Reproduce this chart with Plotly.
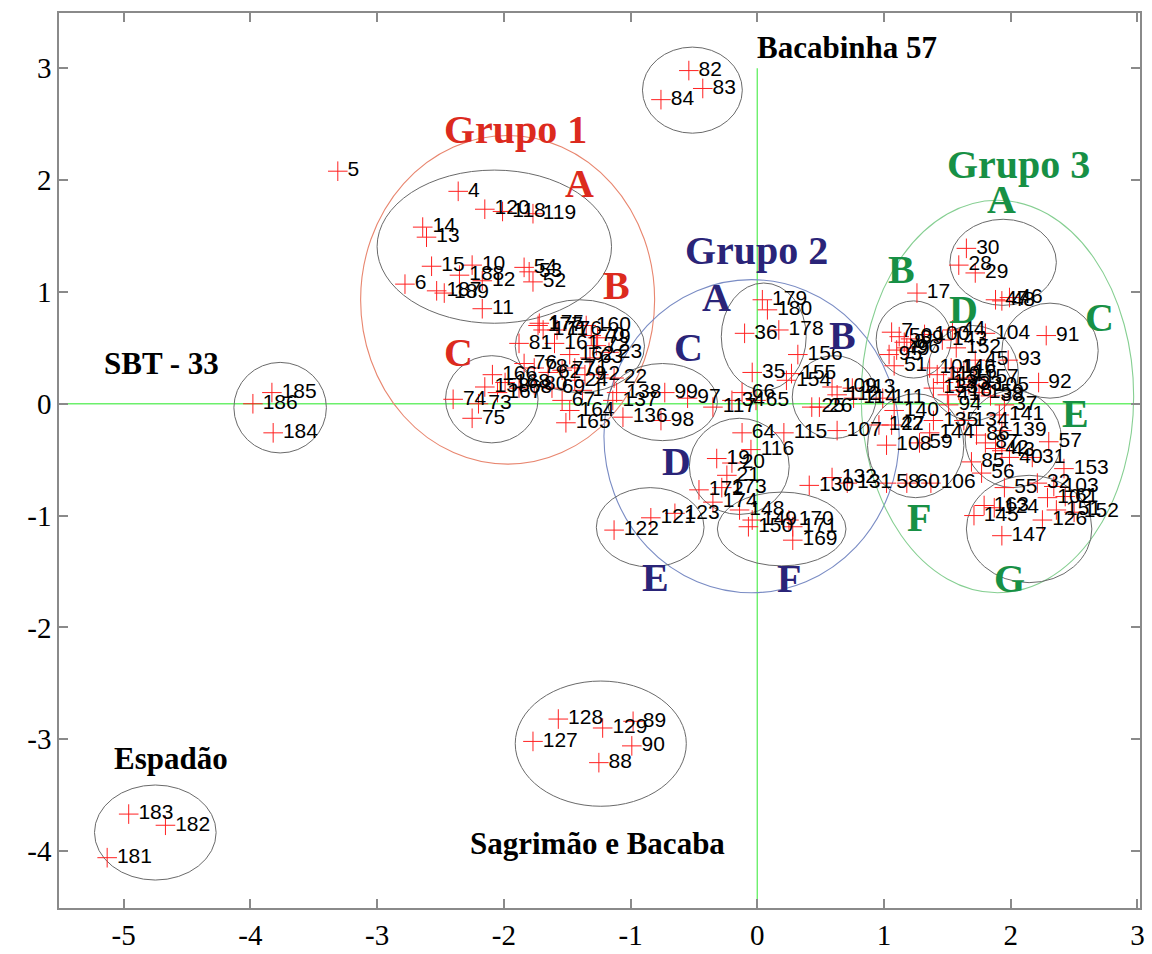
import plotly.graph_objects as go

# ---------------- data: labelled points ----------------
labels = [
    # isolated groups
    "5", "82", "83", "84", "185", "186", "184", "183", "182", "181",
    "128", "127", "129", "89", "90", "88",
    # Grupo 1 A
    "4", "120", "118", "119", "14", "13", "15", "10", "188", "12", "6", "187", "189", "11", "54", "53", "52",
    # Grupo 1 B
    "175", "177", "171", "176", "160", "81", "161", "70", "79", "72", "23", "162", "63", "76", "78",
    "62", "77", "71", "9", "24", "22", "2", "168", "80", "69", "67", "1", "68",
    # Grupo 1 C
    "166", "158", "167", "74", "73", "75", "164", "165",
    # Grupo 2
    "138", "137", "136", "99", "97", "98", "117", "34", "66", "65", "35", "36", "179", "180", "178",
    "156", "155", "154", "109", "113", "112", "114", "111", "25", "26", "64", "115", "107",
    "116", "19", "20", "21", "172", "173", "174", "148", "149", "150", "170", "171", "169",
    "122", "121", "123", "130", "132", "131",
    # Grupo 3
    "17", "30", "28", "29", "47", "46", "48", "91", "92", "104", "44", "143", "152", "45", "93",
    "7", "50", "8", "49", "95", "51", "96", "39", "100",
    "101", "110", "125", "133", "146", "3", "16", "18", "33", "41", "157", "159", "105", "38",
    "94", "37", "141", "139", "57", "153", "31", "40", "85", "87", "86", "43", "42", "134", "135",
    "142", "27", "140", "144", "108", "59", "58", "60", "106", "56", "55", "32", "103", "61",
    "145", "147", "126", "102", "124", "163", "151", "152",
]

x_vals = [
    -3.31, -0.54, -0.43, -0.76, -3.83, -3.98, -3.82, -4.96, -4.67, -5.13,
    -1.57, -1.77, -1.22, -0.98, -0.99, -1.25,
    -2.36, -2.15, -2.01, -1.77, -2.64, -2.61, -2.57, -2.25, -2.35, -2.17, -2.78, -2.53, -2.47, -2.17, -1.84, -1.80, -1.77,
    -1.72, -1.73, -1.69, -1.58, -1.35, -1.88, -1.60, -1.31, -1.26, -1.27, -1.17, -1.48, -1.32, -1.84, -1.76,
    -1.65, -1.54, -1.44, -1.36, -1.44, -1.13, -1.25, -1.99, -1.76, -1.62, -1.54, -1.38, -1.88,
    -2.09, -2.15, -2.05, -2.40, -2.20, -2.25, -1.48, -1.51,
    -1.11, -1.14, -1.06, -0.73, -0.55, -0.76, -0.35, -0.20, -0.12, -0.01, -0.04, -0.10, 0.04, 0.08, 0.17,
    0.32, 0.27, 0.23, 0.59, 0.75, 0.63, 0.76, 0.99, 0.43, 0.49, -0.12, 0.21, 0.63,
    -0.05, -0.32, -0.20, -0.24, -0.46, -0.28, -0.35, -0.14, -0.04, -0.07, 0.25, 0.28, 0.28,
    -1.13, -0.84, -0.65, 0.41, 0.59, 0.71,
    1.26, 1.65, 1.59, 1.72, 1.88, 1.99, 1.93, 2.28, 2.22, 1.80, 1.54, 1.46, 1.57, 1.72, 1.98,
    1.06, 1.12, 1.16, 1.10, 1.04, 1.08, 1.18, 1.21, 1.32,
    1.36, 1.42, 1.47, 1.39, 1.53, 1.58, 1.63, 1.59, 1.67, 1.50, 1.71, 1.75, 1.79, 1.84,
    1.51, 1.95, 1.91, 1.93, 2.30, 2.42, 2.17, 1.99, 1.69, 1.80, 1.73, 1.93, 1.88, 1.63, 1.39,
    0.96, 1.06, 1.08, 1.36, 1.02, 1.28, 1.02, 1.18, 1.37, 1.77, 1.95, 2.21, 2.34, 2.43,
    1.71, 1.93, 2.25, 2.29, 1.87, 1.79, 2.36, 2.50,
]

y_vals = [
    2.08, 2.98, 2.82, 2.72, 0.10, 0.00, -0.26, -3.67, -3.77, -4.06,
    -2.82, -3.02, -2.90, -2.84, -3.06, -3.21,
    1.90, 1.74, 1.72, 1.70, 1.58, 1.49, 1.23, 1.24, 1.15, 1.10, 1.07, 1.01, 0.99, 0.85, 1.22, 1.18, 1.09,
    0.72, 0.70, 0.66, 0.66, 0.70, 0.54, 0.54, 0.61, 0.59, 0.52, 0.46, 0.44, 0.41, 0.36, 0.32,
    0.28, 0.30, 0.32, 0.26, 0.21, 0.23, 0.26, 0.19, 0.17, 0.14, 0.03, 0.12, 0.14,
    0.26, 0.15, 0.10, 0.04, 0.00, -0.13, -0.06, -0.17,
    0.10, 0.03, -0.12, 0.10, 0.05, -0.15, -0.03, 0.03, 0.10, 0.03, 0.28, 0.63, 0.93, 0.84, 0.66,
    0.44, 0.27, 0.21, 0.15, 0.14, 0.08, 0.05, 0.05, -0.03, -0.03, -0.26, -0.26, -0.24,
    -0.41, -0.49, -0.53, -0.64, -0.77, -0.75, -0.88, -0.95, -1.04, -1.10, -1.04, -1.10, -1.22,
    -1.13, -1.02, -0.98, -0.73, -0.66, -0.71,
    0.99, 1.39, 1.24, 1.17, 0.93, 0.95, 0.92, 0.61, 0.19, 0.63, 0.66, 0.57, 0.50, 0.39, 0.39,
    0.64, 0.60, 0.55, 0.48, 0.44, 0.34, 0.50, 0.58, 0.62,
    0.32, 0.26, 0.19, 0.14, 0.32, 0.23, 0.28, 0.12, 0.17, 0.08, 0.23, 0.10, 0.16, 0.07,
    -0.01, -0.01, -0.10, -0.24, -0.34, -0.58, -0.48, -0.48, -0.52, -0.35, -0.28, -0.42, -0.40, -0.15, -0.15,
    -0.19, -0.19, -0.06, -0.26, -0.37, -0.35, -0.71, -0.71, -0.71, -0.62, -0.75, -0.71, -0.74, -0.83,
    -1.00, -1.18, -1.04, -0.84, -0.93, -0.91, -0.95, -0.97,
]

# ---------------- data: enclosing ellipses (x0, x1, y0, y1) ----------------
ellipse_x0 = [-0.906, -3.00, -1.91, -2.46, -4.13, -5.23, -1.91, -0.284, 0.276, -1.18, -0.536, -1.27, -0.315,
              1.52, 0.938, 1.93, 1.34, 1.64, 0.87, 1.65]
ellipse_x1 = [-0.118, -1.15, -0.89, -1.73, -3.40, -4.27, -0.56, 0.386, 0.938, -0.315, 0.252, -0.42, 0.70,
              2.36, 1.53, 2.69, 2.06, 2.40, 1.63, 2.64]
ellipse_y0 = [2.42, 0.72, 0.10, -0.35, -0.44, -4.26, -3.60, 0.12, -0.31, -0.33, -0.99, -1.46, -1.45,
              0.88, 0.23, 0.05, -0.15, -0.75, -0.84, -1.60]
ellipse_y1 = [3.19, 2.09, 0.93, 0.43, 0.37, -3.41, -2.48, 1.08, 0.43, 0.36, -0.13, -0.75, -0.79,
              1.65, 0.92, 0.90, 0.70, 0.12, 0.09, -0.64]

group_x0 = [-3.13, -1.21, 0.82]
group_x1 = [-0.81, 1.12, 2.97]
group_y0 = [-0.54, -1.69, -1.69]
group_y1 = [2.40, 1.11, 1.82]
group_colors = ["#e8866f", "#7a8cc4", "#86cf92"]

# ---------------- data: text annotations ----------------
group_text = ["Grupo 1", "A", "B", "C",
              "Grupo 2", "A", "B", "C", "D", "E", "F",
              "Grupo 3", "A", "B", "C", "D", "E", "F", "G"]
group_text_x = [-1.91, -1.40, -1.11, -2.36,
                -0.01, -0.32, 0.67, -0.54, -0.64, -0.80, 0.25,
                2.06, 1.93, 1.14, 2.70, 1.63, 2.51, 1.28, 1.99]
group_text_y = [2.45, 1.97, 1.06, 0.46,
                1.37, 0.95, 0.61, 0.50, -0.52, -1.55, -1.56,
                2.14, 1.83, 1.20, 0.77, 0.84, -0.09, -1.02, -1.56]
group_text_color = ["#dc2a1e"] * 4 + ["#2a2478"] * 7 + ["#179045"] * 8

name_text = ["Bacabinha 57", "SBT - 33", "Espadão", "Sagrimão e Bacaba"]
name_x = [0.71, -4.70, -4.63, -1.26]
name_y = [3.19, 0.36, -3.17, -3.93]

x_ticks = [-5, -4, -3, -2, -1, 0, 1, 2, 3]
y_ticks = [-4, -3, -2, -1, 0, 1, 2, 3]
x_range = [-5.51, 3.02]
y_range = [-4.51, 3.495]

# ---------------- figure ----------------
fig = go.Figure()

shapes = []
# green axis cross
shapes.append(dict(type="line", xref="x", yref="y", x0=0, x1=0, y0=y_range[0], y1=3.0,
                   line=dict(color="#6cf06c", width=1.4), layer="below"))
shapes.append(dict(type="line", xref="x", yref="y", x0=x_range[0], x1=x_range[1], y0=0, y1=0,
                   line=dict(color="#6cf06c", width=1.4), layer="below"))
for gx0, gx1, gy0, gy1, gc in zip(group_x0, group_x1, group_y0, group_y1, group_colors):
    shapes.append(dict(type="circle", xref="x", yref="y", x0=gx0, x1=gx1, y0=gy0, y1=gy1,
                       line=dict(color=gc, width=1.1), layer="below"))
for ex0, ex1, ey0, ey1 in zip(ellipse_x0, ellipse_x1, ellipse_y0, ellipse_y1):
    shapes.append(dict(type="circle", xref="x", yref="y", x0=ex0, x1=ex1, y0=ey0, y1=ey1,
                       line=dict(color="#6a6a6a", width=1), layer="below"))

fig.add_trace(go.Scatter(
    x=x_vals, y=y_vals, text=labels, mode="markers+text",
    textposition="middle right",
    marker=dict(symbol="cross-thin", size=14, color="red", line=dict(color="#ff2020", width=1)),
    textfont=dict(family="Liberation Sans, Arial, sans-serif", size=21, color="black"),
    hoverinfo="skip", cliponaxis=False,
))

annotations = []
for t, ax, ay, c in zip(group_text, group_text_x, group_text_y, group_text_color):
    annotations.append(dict(x=ax, y=ay, xref="x", yref="y", text=t, showarrow=False,
                            font=dict(family="Liberation Serif, Times New Roman, serif", size=40,
                                      color=c, weight="bold"),
                            xanchor="center", yanchor="middle"))
for t, ax, ay in zip(name_text, name_x, name_y):
    annotations.append(dict(x=ax, y=ay, xref="x", yref="y", text=t, showarrow=False,
                            font=dict(family="Liberation Serif, Times New Roman, serif", size=31,
                                      color="black", weight="bold"),
                            xanchor="center", yanchor="middle"))

axis_common = dict(showgrid=False, zeroline=False, showline=True, mirror="ticks",
                   linecolor="#8a8a8a", linewidth=1.5, ticks="inside", ticklen=9,
                   tickcolor="#8a8a8a", tickwidth=1.5, automargin=False,
                   tickfont=dict(family="Liberation Serif, Times New Roman, serif", size=29, color="black"))

fig.update_layout(
    width=1152, height=954,
    margin=dict(l=59, r=12, t=13, b=46, autoexpand=False),
    paper_bgcolor="white", plot_bgcolor="white",
    showlegend=False,
    shapes=shapes, annotations=annotations,
    xaxis=dict(range=x_range, tickvals=x_ticks, ticktext=[str(v) for v in x_ticks], **axis_common),
    yaxis=dict(range=y_range, tickvals=y_ticks, ticktext=[str(v) for v in y_ticks], **axis_common),
)

fig.write_html("out.html")
